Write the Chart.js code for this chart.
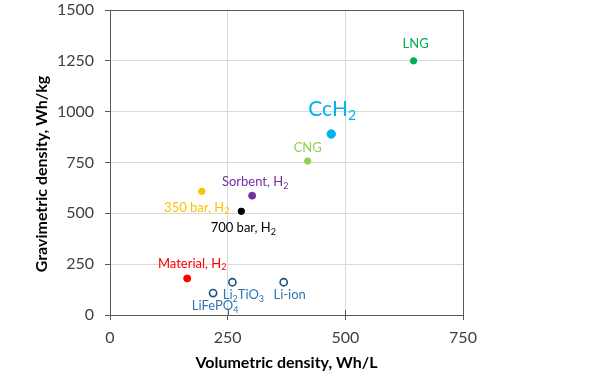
<!DOCTYPE html>
<html>
<head>
<meta charset="utf-8">
<script src="https://cdn.jsdelivr.net/npm/chart.js@4/dist/chart.umd.min.js"></script>
<style>
html,body{margin:0;padding:0;background:#fff;}
canvas{display:block;}
</style>
</head>
<body>
<canvas id="c" width="600" height="386"></canvas>
<script>
// ---- data ----
const names = ["LNG", "CcH2", "CNG", "Sorbent, H2", "350 bar, H2", "700 bar, H2", "Material, H2", "Li2TiO3", "Li-ion", "LiFePO4"];
// label text with subscripts: [text, isSub]
const labelParts = [
  [["LNG",0]],
  [["CcH",0],["2",1]],
  [["CNG",0]],
  [["Sorbent, H",0],["2",1]],
  [["350 bar, H",0],["2",1]],
  [["700 bar, H",0],["2",1]],
  [["Material, H",0],["2",1]],
  [["Li",0],["2",1],["TiO",0],["3",1]],
  [["Li-ion",0]],
  [["LiFePO",0],["4",1]]
];
const volumetric = [645, 470, 420, 302, 195, 279, 164, 260, 369, 219];
const gravimetric = [1250, 890, 757, 587, 608, 510, 180, 161, 161, 108];
const xTicks = [0, 250, 500, 750];
const yTicks = [0, 250, 500, 750, 1000, 1250, 1500];
const xTitle = 'Volumetric density, Wh/L';
const yTitle = 'Gravimetric density, Wh/kg';

// ---- styles ----
const pointFill = ["#00B050", "#00B0F0", "#92D050", "#7030A0", "#FFC000", "#000000", "#FF0000", "#FFFFFF", "#FFFFFF", "#FFFFFF"];
const pointBorder = ["#00B050", "#00B0F0", "#92D050", "#7030A0", "#FFC000", "#000000", "#FF0000", "#1F4E79", "#1F4E79", "#1F4E79"];
const pointRadius = [3.2, 4.2, 3.2, 3.5, 3.2, 3.2, 3.5, 3.6, 3.6, 3.6];
const pointBorderW = [1, 1, 1, 1, 1, 1, 1, 1.6, 1.6, 1.6];
const labelColor = ["#00B050", "#00B0F0", "#92D050", "#7030A0", "#FFC000", "#000000", "#FF0000", "#2E75B6", "#2E75B6", "#2E75B6"];
const labelSize = [13, 21, 13, 13, 13, 13, 13, 13, 13, 13];
const labelDX = [2, 1, 0, 3, -5, 2, 5, 11, 6, 2];
const labelDY = [-17, -25, -13, -14, 16, 17, -15, 13, 13, 13];

const FONT = "Lato, 'Open Sans', sans-serif";
const AXIS = "#595959";

const labelPlugin = {
  id: 'pointLabels',
  afterDatasetsDraw(chart) {
    const ctx = chart.ctx;
    const meta = chart.getDatasetMeta(0);
    ctx.save();
    ctx.textBaseline = 'middle';
    ctx.textAlign = 'left';
    meta.data.forEach((pt, i) => {
      const size = labelSize[i];
      const subSize = Math.round(size * 0.68);
      const parts = labelParts[i];
      let w = 0;
      parts.forEach(([t, s]) => {
        ctx.font = (s ? subSize : size) + 'px ' + FONT;
        w += ctx.measureText(t).width;
      });
      let x = pt.x + labelDX[i] - w / 2;
      const y = pt.y + labelDY[i];
      ctx.fillStyle = labelColor[i];
      parts.forEach(([t, s]) => {
        ctx.font = (s ? subSize : size) + 'px ' + FONT;
        ctx.fillText(t, x, s ? y + size * 0.32 : y);
        x += ctx.measureText(t).width;
      });
    });
    ctx.restore();
  }
};

const framePlugin = {
  id: 'frame',
  afterDraw(chart) {
    const a = chart.chartArea;
    const ctx = chart.ctx;
    ctx.save();
    ctx.strokeStyle = AXIS;
    ctx.lineWidth = 1;
    ctx.strokeRect(Math.round(a.left) + 0.5, Math.round(a.top) + 0.5, Math.round(a.right - a.left), Math.round(a.bottom - a.top));
    // cross ticks above the x axis
    const xs = chart.scales.x;
    ctx.beginPath();
    xTicks.forEach(v => {
      if (v === xTicks[0] || v === xTicks[xTicks.length - 1]) return;
      const px = Math.round(xs.getPixelForValue(v)) + 0.5;
      ctx.moveTo(px, a.bottom - 5);
      ctx.lineTo(px, a.bottom);
    });
    ctx.stroke();
    // y axis title
    ctx.fillStyle = '#000';
    ctx.font = 'bold 16px ' + FONT;
    ctx.textAlign = 'center';
    ctx.textBaseline = 'middle';
    ctx.translate(42, 174);
    ctx.rotate(-Math.PI / 2);
    ctx.fillText(yTitle, 0, 0);
    ctx.restore();
  }
};

new Chart(document.getElementById('c'), {
  type: 'scatter',
  data: {
    datasets: [{
      data: volumetric.map((v, i) => ({ x: v, y: gravimetric[i] })),
      backgroundColor: pointFill,
      borderColor: pointBorder,
      borderWidth: pointBorderW,
      pointRadius: pointRadius,
      pointHoverRadius: pointRadius
    }]
  },
  options: {
    responsive: false,
    animation: false,
    devicePixelRatio: 1,
    layout: { padding: { left: 0, right: 137, top: 0, bottom: 0 } },
    plugins: { legend: { display: false }, tooltip: { enabled: false } },
    scales: {
      x: {
        type: 'linear',
        min: 0, max: 750,
        afterBuildTicks(s) { s.ticks = xTicks.map(v => ({ value: v })); },
        afterFit(s) { s.height = 71; s.paddingLeft = 0; s.paddingRight = 0; },
        grid: { color: '#D9D9D9', tickColor: AXIS, tickLength: 5 },
        border: { color: AXIS },
        ticks: { font: { family: FONT, size: 16 }, color: '#404040', padding: 8, maxRotation: 0, callback: v => String(v) },
        title: { display: true, text: xTitle, font: { family: FONT, size: 16, weight: 'bold' }, color: '#000', padding: { top: 0, bottom: 14 } }
      },
      y: {
        type: 'linear',
        min: 0, max: 1500,
        afterBuildTicks(s) { s.ticks = yTicks.map(v => ({ value: v })); },
        afterFit(s) { s.width = 110; s.paddingTop = 10; s.paddingBottom = 0; },
        grid: { color: '#D9D9D9', tickColor: AXIS, tickLength: 5 },
        border: { color: AXIS },
        ticks: { font: { family: FONT, size: 16 }, color: '#404040', padding: 11, callback: v => String(v) },
        title: { display: false }
      }
    }
  },
  plugins: [labelPlugin, framePlugin]
});
</script>
</body>
</html>
